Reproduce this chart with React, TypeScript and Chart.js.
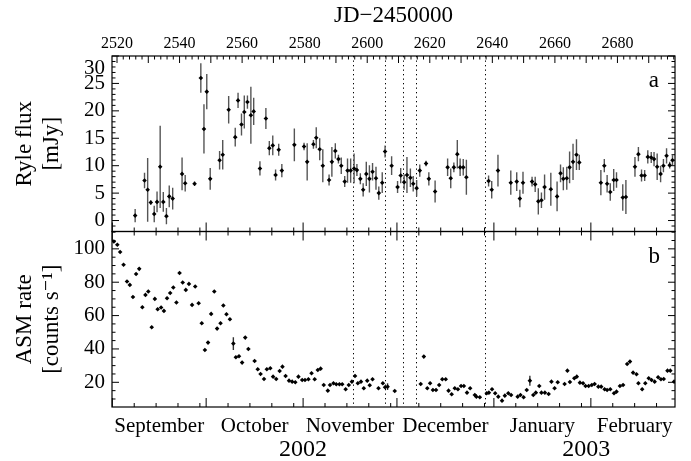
import { useEffect, useRef } from "react";
import { Chart, registerables } from "chart.js";

Chart.register(...registerables);

const FONT = "'Liberation Serif', 'DejaVu Serif', 'Times New Roman', serif";

// ---- Axis range (JD - 2450000) ----
const X_MIN = 2518.4;
const X_MAX = 2698.4;

// ---- Panel a: Ryle 15 GHz flux (mJy) ----
const ryleJD = [
  2525.8, 2528.8, 2529.8, 2530.8, 2531.9, 2532.8, 2533.8, 2534.8, 2535.8, 2536.7,
  2537.8, 2540.8, 2541.8, 2544.8, 2546.8, 2547.8, 2548.7, 2549.8, 2552.8, 2553.8,
  2555.7, 2557.8, 2558.7, 2559.8, 2560.7, 2561.7, 2562.8, 2563.7, 2565.7, 2567.6,
  2568.7, 2569.8, 2570.7, 2571.7, 2572.7, 2576.7, 2579.8, 2580.8, 2582.8, 2583.7,
  2584.8, 2585.8, 2587.8, 2588.7, 2589.8, 2590.8, 2591.7, 2592.8, 2593.7, 2594.7,
  2595.8, 2596.7, 2597.8, 2598.7, 2599.7, 2600.7, 2601.7, 2602.8, 2603.7, 2604.8,
  2605.7, 2607.8, 2609.7, 2610.7, 2611.8, 2612.7, 2613.8, 2614.7, 2615.8, 2616.8,
  2618.8, 2619.7, 2621.7, 2625.7, 2626.7, 2627.7, 2628.8, 2629.7, 2630.7, 2631.7,
  2638.8, 2639.8, 2641.8, 2645.9, 2647.8, 2648.8, 2649.8, 2652.7, 2653.7, 2654.7,
  2655.7, 2656.7, 2658.7, 2660.7, 2661.8, 2662.7, 2663.8, 2664.7, 2665.8, 2666.9,
  2667.8, 2674.7, 2675.8, 2676.7, 2677.7, 2678.8, 2679.7, 2681.7, 2682.7, 2685.6,
  2686.7, 2687.7, 2688.7, 2689.7, 2690.8, 2691.7, 2692.7, 2693.8, 2694.7, 2695.7,
  2696.7, 2697.6,
];
const ryleFlux = [
  0.9, 7.3, 5.6, 3.3, 1.2, 3.4, 9.8, 3.4, 0.8, 4.4,
  4.0, 8.5, 6.8, 6.7, 26.0, 16.7, 23.5, 7.6, 11.0, 12.0,
  20.2, 15.2, 21.9, 17.5, 19.8, 21.6, 19.2, 19.9, 9.5, 18.6,
  13.2, 13.7, 8.3, 12.9, 9.1, 13.8, 13.5, 10.7, 13.9, 15.1,
  13.0, 10.0, 7.4, 10.7, 12.7, 11.2, 10.0, 7.1, 9.1, 9.1,
  9.5, 9.2, 7.6, 5.6, 8.5, 7.6, 8.9, 7.7, 5.0, 6.9,
  12.6, 10.0, 6.1, 8.2, 7.0, 8.3, 7.8, 6.7, 5.9, 9.1,
  10.4, 7.6, 5.3, 9.7, 7.7, 9.7, 12.1, 9.7, 9.7, 7.9,
  7.2, 5.6, 9.1, 6.9, 7.1, 4.0, 6.9, 7.1, 6.6, 3.5,
  3.7, 6.1, 5.7, 4.4, 8.6, 7.6, 7.7, 9.7, 10.7, 12.0,
  10.6, 6.9, 10.0, 6.7, 5.2, 7.4, 7.4, 4.2, 4.3, 9.8,
  12.1, 8.2, 8.2, 11.6, 11.5, 11.2, 9.8, 8.5, 10.0, 11.8,
  10.1, 11.0,
];
const ryleErr = [
  1.2, 1.4, 5.8, 0.4, 1.5, 1.9, 7.5, 1.8, 1.5, 2.0,
  2.0, 3.0, 1.5, 0.4, 2.7, 4.5, 3.2, 2.0, 1.7, 2.7,
  2.5, 1.7, 1.4, 2.0, 3.0, 1.2, 5.2, 2.5, 1.3, 1.9,
  1.3, 1.8, 1.0, 1.1, 1.2, 3.0, 0.7, 3.4, 0.8, 1.9,
  2.0, 3.0, 1.0, 2.7, 1.4, 0.8, 1.5, 1.0, 2.2, 2.2,
  2.7, 1.1, 1.0, 1.2, 2.2, 2.5, 1.6, 2.1, 1.2, 1.9,
  1.1, 1.7, 1.1, 1.4, 1.4, 3.3, 1.7, 1.4, 1.5, 1.1,
  0.5, 1.2, 2.0, 1.6, 1.8, 0.9, 2.6, 1.6, 1.5, 3.2,
  1.0, 1.6, 2.9, 2.2, 1.7, 1.6, 2.0, 0.9, 1.4, 2.4,
  1.4, 2.3, 3.0, 2.7, 1.6, 2.1, 2.1, 2.9, 3.3, 2.8,
  1.4, 2.3, 1.2, 1.6, 1.6, 2.0, 1.4, 2.4, 3.1, 1.8,
  1.3, 1.1, 1.0, 1.2, 1.0, 1.3, 2.4, 1.5, 1.2, 1.4,
  0.6, 0.9,
];

// ---- Panel b: RXTE/ASM count rate (counts/s) ----
const asmJD = [
  2519.0, 2520.1, 2521.0, 2522.1, 2523.2, 2524.1, 2525.1, 2526.1, 2527.1, 2528.1,
  2529.1, 2530.0, 2531.1, 2532.1, 2533.0, 2534.1, 2535.0, 2536.0, 2537.0, 2538.0,
  2539.0, 2540.0, 2541.0, 2542.0, 2543.0, 2544.0, 2545.0, 2546.1, 2547.1, 2548.1,
  2549.1, 2550.1, 2551.1, 2552.0, 2553.1, 2554.0, 2555.0, 2556.1, 2557.2, 2558.0,
  2559.0, 2560.0, 2561.0, 2562.0, 2564.0, 2565.0, 2565.9, 2567.0, 2567.9, 2569.0,
  2569.9, 2570.9, 2572.0, 2572.9, 2573.9, 2575.0, 2576.0, 2577.0, 2578.0, 2579.2,
  2580.1, 2581.2, 2582.2, 2583.2, 2584.2, 2585.1, 2586.1, 2587.4, 2588.1, 2589.2,
  2590.1, 2591.1, 2592.0, 2593.1, 2594.1, 2595.1, 2596.1, 2597.0, 2598.0, 2598.9,
  2600.0, 2600.8, 2601.7, 2603.6, 2605.0, 2605.7, 2606.5, 2608.8, 2617.1, 2618.1,
  2619.2, 2620.1, 2621.0, 2622.0, 2623.0, 2624.0, 2625.1, 2626.0, 2627.0, 2628.0,
  2629.0, 2630.0, 2630.9, 2631.9, 2632.9, 2634.4, 2634.9, 2636.0, 2638.2, 2638.9,
  2639.9, 2640.9, 2641.9, 2643.1, 2644.0, 2645.1, 2646.0, 2648.1, 2649.0, 2650.0,
  2651.0, 2652.0, 2653.1, 2653.9, 2655.0, 2655.7, 2656.8, 2658.0, 2658.9, 2659.9,
  2660.9, 2663.1, 2664.0, 2664.8, 2666.2, 2667.0, 2668.0, 2669.0, 2669.8, 2670.8,
  2671.8, 2672.7, 2673.9, 2674.8, 2675.9, 2676.7, 2677.7, 2678.9, 2679.7, 2680.8,
  2681.8, 2683.1, 2684.0, 2685.0, 2686.1, 2686.7, 2687.9, 2688.9, 2690.0, 2690.9,
  2691.9, 2693.0, 2693.9, 2694.8, 2696.0, 2696.9, 2698.1,
];
const asmRate = [
  104.4, 102.5, 98.1, 90.5, 80.4, 78.4, 71.1, 84.9, 88.0, 65.0,
  72.4, 74.4, 53.0, 70.0, 63.8, 64.8, 62.8, 70.4, 73.5, 76.8,
  67.8, 85.5, 79.8, 75.4, 79.0, 66.4, 77.4, 67.4, 55.4, 39.4,
  43.8, 61.0, 74.4, 52.2, 55.4, 66.0, 60.8, 57.8, 43.2, 35.0,
  35.6, 31.8, 46.8, 40.0, 32.8, 27.8, 25.0, 22.0, 27.8, 28.4,
  23.4, 22.0, 26.8, 29.4, 23.8, 21.0, 20.4, 20.0, 23.4, 21.4,
  21.4, 21.8, 25.4, 21.8, 27.4, 28.2, 18.4, 15.0, 18.4, 19.4,
  18.8, 18.8, 18.8, 15.8, 18.4, 20.4, 23.8, 19.4, 20.4, 16.4,
  21.0, 18.2, 21.8, 16.4, 19.4, 17.0, 17.4, 14.8, 19.0, 35.4,
  16.4, 19.4, 15.4, 15.4, 18.4, 21.8, 21.8, 15.0, 12.8, 16.4,
  15.8, 17.8, 17.8, 13.8, 16.4, 12.4, 11.4, 11.0, 13.4, 13.8,
  15.8, 13.4, 11.4, 9.0, 12.0, 13.4, 12.4, 11.4, 12.4, 11.0,
  15.4, 21.0, 12.4, 13.8, 17.8, 13.8, 13.8, 13.0, 20.4, 16.4,
  20.0, 19.0, 27.0, 20.2, 22.4, 23.4, 19.8, 19.4, 17.8, 17.8,
  18.4, 19.0, 17.4, 17.4, 15.8, 15.4, 15.8, 13.4, 14.4, 17.8,
  18.4, 31.0, 32.4, 25.8, 24.8, 19.4, 15.8, 19.4, 22.4, 21.4,
  20.4, 23.0, 21.8, 22.0, 27.0, 27.0, 20.4,
];
// ASM points that show a visible error bar: [JD, error]
const asmErrors: [number, number][] = [
  [2557.2, 3.8],
  [2606.5, 2.0],
  [2652.0, 3.0],
];

// ---- Marked epochs (dotted lines) ----
const eventLines = [2595.5, 2605.6, 2611.5, 2615.5, 2637.6];

// ---- Tick labels ----
const jdTicks = [2520, 2540, 2560, 2580, 2600, 2620, 2640, 2660, 2680];
const ryleTicks = [0, 5, 10, 15, 20, 25, 30];
const asmTicks = [20, 40, 60, 80, 100];
const monthNames = ["September", "October", "November", "December", "January", "February"];
const monthStarts = [2518.5, 2548.5, 2579.5, 2609.5, 2640.5, 2671.5, 2699.5];
const monthCenters = [2533.5, 2564.0, 2594.5, 2625.0, 2656.0, 2685.5];
const yearLabels = ["2002", "2003"];
const yearCenters = [2579.5, 2670.0];

const decorPlugin = {
  id: "decor",
  beforeDatasetsDraw(chart: any) {
    const { ctx } = chart;
    const x = chart.scales.x;
    const yR = chart.scales.yRyle;
    const yA = chart.scales.yAsm;

    // dotted epoch lines through both panels
    ctx.save();
    ctx.strokeStyle = "#000";
    ctx.lineWidth = 1;
    ctx.setLineDash([1.3, 3.2]);
    for (const jd of eventLines) {
      const px = Math.round(x.getPixelForValue(jd)) + 0.5;
      ctx.beginPath();
      ctx.moveTo(px, yR.top);
      ctx.lineTo(px, yA.bottom);
      ctx.stroke();
    }
    ctx.restore();

    // error bars, panel a
    ctx.save();
    ctx.beginPath();
    ctx.rect(x.left, yR.top, x.right - x.left, yR.bottom - yR.top);
    ctx.clip();
    ctx.strokeStyle = "#555";
    ctx.lineWidth = 1.4;
    ctx.beginPath();
    ryleJD.forEach((jd, i) => {
      const px = x.getPixelForValue(jd);
      ctx.moveTo(px, yR.getPixelForValue(ryleFlux[i] - ryleErr[i]));
      ctx.lineTo(px, yR.getPixelForValue(ryleFlux[i] + ryleErr[i]));
    });
    ctx.stroke();
    ctx.restore();

    // error bars, panel b
    ctx.save();
    ctx.beginPath();
    ctx.rect(x.left, yA.top, x.right - x.left, yA.bottom - yA.top);
    ctx.clip();
    ctx.strokeStyle = "#333";
    ctx.lineWidth = 1.4;
    ctx.beginPath();
    for (const [jd, err] of asmErrors) {
      const i = asmJD.indexOf(jd);
      if (i < 0) continue;
      const px = x.getPixelForValue(jd);
      ctx.moveTo(px, yA.getPixelForValue(asmRate[i] - err));
      ctx.lineTo(px, yA.getPixelForValue(asmRate[i] + err));
    }
    ctx.stroke();
    ctx.restore();
  },
  afterDraw(chart: any) {
    const { ctx } = chart;
    const x = chart.scales.x;
    const yR = chart.scales.yRyle;
    const yA = chart.scales.yAsm;
    const L = x.left;
    const R = x.right;

    ctx.save();
    ctx.strokeStyle = "#000";
    ctx.lineWidth = 1.2;
    ctx.strokeRect(L, yR.top, R - L, yR.bottom - yR.top);
    ctx.strokeRect(L, yA.top, R - L, yA.bottom - yA.top);

    ctx.lineWidth = 1;
    ctx.beginPath();
    const vt = (px: number, y0: number, len: number) => {
      ctx.moveTo(px, y0);
      ctx.lineTo(px, y0 + len);
    };
    const ht = (x0: number, py: number, len: number) => {
      ctx.moveTo(x0, py);
      ctx.lineTo(x0 + len, py);
    };
    // JD ticks on top axis
    for (let d = Math.ceil(X_MIN / 2) * 2; d <= X_MAX; d += 2) {
      const px = x.getPixelForValue(d);
      vt(px, yR.top, d % 10 === 0 ? 7 : 3.5);
    }
    // calendar ticks (month starts long, weekly short)
    for (let m = 0; m < monthStarts.length - 1; m++) {
      for (let k = 0; k < 31; k += 7) {
        const d = monthStarts[m] + k;
        if (d >= monthStarts[m + 1] || d <= X_MIN || d >= X_MAX) continue;
        const len = k === 0 ? 9 : 4;
        const px = x.getPixelForValue(d);
        vt(px, yR.bottom, -len);
        vt(px, yA.top, len);
        vt(px, yA.bottom, -len);
      }
    }
    // y ticks panel a
    for (let v = -2; v <= 30; v++) {
      const py = yR.getPixelForValue(v);
      const len = v % 5 === 0 ? 7 : 3.5;
      ht(L, py, len);
      ht(R, py, -len);
    }
    // y ticks panel b
    for (let v = 10; v <= 110; v += 5) {
      const py = yA.getPixelForValue(v);
      const len = v % 20 === 0 ? 7 : 3.5;
      ht(L, py, len);
      ht(R, py, -len);
    }
    ctx.stroke();

    // panel letters
    ctx.fillStyle = "#000";
    ctx.font = `23px ${FONT}`;
    ctx.textAlign = "right";
    ctx.textBaseline = "alphabetic";
    ctx.fillText("a", R - 16, yR.top + 31);
    ctx.fillText("b", R - 15, yA.top + 31);
    ctx.restore();
  },
};

export default function App() {
  const ref = useRef<HTMLCanvasElement | null>(null);

  useEffect(() => {
    if (!ref.current) return;
    const tickFont = (size: number) => ({ family: FONT, size });
    const hidden = { display: false, drawTicks: false };

    const chart = new Chart(ref.current, {
      type: "scatter",
      data: {
        datasets: [
          {
            label: "Ryle",
            data: ryleJD.map((v, i) => ({ x: v, y: ryleFlux[i] })),
            xAxisID: "x",
            yAxisID: "yRyle",
            pointStyle: "rectRot",
            pointRadius: 2.3,
            backgroundColor: "#000",
            borderColor: "#000",
            borderWidth: 0,
          },
          {
            label: "ASM",
            data: asmJD.map((v, i) => ({ x: v, y: asmRate[i] })),
            xAxisID: "x",
            yAxisID: "yAsm",
            pointStyle: "rectRot",
            pointRadius: 2.3,
            backgroundColor: "#000",
            borderColor: "#000",
            borderWidth: 0,
          },
        ],
      },
      options: {
        animation: false,
        responsive: false,
        events: [],
        layout: { padding: { left: 0, right: 16, top: 0, bottom: 0 } },
        plugins: { legend: { display: false }, tooltip: { enabled: false } },
        scales: {
          x: {
            type: "linear",
            position: "bottom",
            min: X_MIN,
            max: X_MAX,
            grid: hidden,
            border: { display: false },
            afterBuildTicks: (s: any) => {
              s.ticks = monthCenters.map((v) => ({ value: v }));
            },
            afterFit: (s: any) => {
              s.height = 33;
            },
            ticks: {
              autoSkip: false,
              maxRotation: 0,
              minRotation: 0,
              padding: 7,
              color: "#000",
              font: tickFont(21),
              callback: (_v: any, i: number) => monthNames[i],
            },
          },
          xYear: {
            type: "linear",
            position: "bottom",
            min: X_MIN,
            max: X_MAX,
            grid: hidden,
            border: { display: false },
            afterBuildTicks: (s: any) => {
              s.ticks = yearCenters.map((v) => ({ value: v }));
            },
            afterFit: (s: any) => {
              s.height = 21;
            },
            ticks: {
              autoSkip: false,
              maxRotation: 0,
              minRotation: 0,
              padding: -5,
              color: "#000",
              font: tickFont(24),
              callback: (_v: any, i: number) => yearLabels[i],
            },
          },
          xTop: {
            type: "linear",
            position: "top",
            min: X_MIN,
            max: X_MAX,
            grid: hidden,
            border: { display: false },
            afterBuildTicks: (s: any) => {
              s.ticks = jdTicks.map((v) => ({ value: v }));
            },
            afterFit: (s: any) => {
              s.height = 56;
            },
            title: {
              display: true,
              text: "JD\u22122450000",
              color: "#000",
              font: tickFont(23),
              padding: { top: 2, bottom: 0 },
            },
            ticks: {
              autoSkip: false,
              maxRotation: 0,
              minRotation: 0,
              padding: 3,
              color: "#000",
              font: tickFont(16),
              callback: (v: any) => String(v),
            },
          },
          yAsm: {
            type: "linear",
            position: "left",
            stack: "panels",
            stackWeight: 1,
            weight: 1,
            min: 5.2,
            max: 110.4,
            grid: hidden,
            border: { display: false },
            afterBuildTicks: (s: any) => {
              s.ticks = asmTicks.map((v) => ({ value: v }));
            },
            afterFit: (s: any) => {
              s.width = 112;
            },
            title: {
              display: true,
              text: ["ASM rate", "[counts s\u207B\u00B9]"],
              color: "#000",
              font: tickFont(23),
              padding: { top: 11, bottom: 0 },
            },
            ticks: {
              autoSkip: false,
              padding: 7,
              color: "#000",
              font: tickFont(21),
              callback: (v: any) => String(v),
            },
          },
          yRyle: {
            type: "linear",
            position: "left",
            stack: "panels",
            stackWeight: 1,
            weight: 2,
            min: -2,
            max: 30,
            grid: hidden,
            border: { display: false },
            afterBuildTicks: (s: any) => {
              s.ticks = ryleTicks.map((v) => ({ value: v }));
            },
            afterFit: (s: any) => {
              s.width = 112;
            },
            title: {
              display: true,
              text: ["Ryle flux", "[mJy]"],
              color: "#000",
              font: tickFont(23),
              padding: { top: 11, bottom: 0 },
            },
            ticks: {
              autoSkip: false,
              padding: 7,
              color: "#000",
              font: tickFont(21),
              // the top label sits just below the frame corner, as in the original
              callback: (v: any) => (v === 30 ? ["", "30"] : String(v)),
            },
          },
        },
      } as any,
      plugins: [decorPlugin],
    });

    return () => chart.destroy();
  }, []);

  return (
    <div style={{ position: "absolute", left: 0, top: 0, width: 691, height: 461, background: "#fff" }}>
      <canvas ref={ref} width={691} height={461} style={{ width: 691, height: 461, display: "block" }} />
    </div>
  );
}
